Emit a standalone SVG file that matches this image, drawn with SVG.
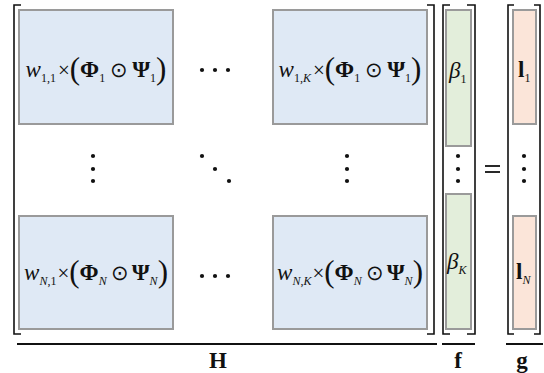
<svg xmlns="http://www.w3.org/2000/svg" width="544" height="373" viewBox="0 0 544 373">
<style>
.bx{stroke:#9a9a9a;stroke-width:2}
.blue{fill:#dfe9f5}
.green{fill:#e3eedb}
.pink{fill:#fbe5d9}
.br{fill:none;stroke:#111;stroke-width:1.6}
.ul{stroke:#111;stroke-width:1.8}
.t{font-family:"Liberation Serif","Times New Roman",serif;font-size:23px;fill:#111}
.it{font-style:italic}
.b{font-weight:bold}
.s{font-size:12px}
.si{font-size:12px;font-style:italic}
.op{font-size:21px}
.p{font-size:31px}
.dot{fill:#111}
.lab{font-family:"Liberation Serif","Times New Roman",serif;font-size:23px;font-weight:bold;fill:#111}
</style>
<defs>
<circle id="d" r="2.1" class="dot"/>
</defs>

<g id="brackets">
<path class="br" d="M21,5 H14 V334 H21"/>
<path class="br" d="M427,5 H434 V334 H427"/>
<path class="br" d="M450,5 H443 V334 H450"/>
<path class="br" d="M467,5 H475 V334 H467"/>
<path class="br" d="M514,5 H508 V334 H514"/>
<path class="br" d="M534,5 H540 V334 H534"/>
</g>

<g id="H11">
<rect class="bx blue" x="19" y="10" width="154" height="114"/>
<text class="t" x="96" y="77" text-anchor="middle"><tspan class="it">w</tspan><tspan class="s" dy="5">1,1</tspan><tspan class="op" dy="-5" dx="2">×</tspan><tspan class="p" dy="2">(</tspan><tspan class="b" dy="-2">Φ</tspan><tspan class="s" dy="5">1</tspan><tspan class="op" dy="-5" dx="5">⊙</tspan><tspan class="b" dx="4">Ψ</tspan><tspan class="s" dy="5">1</tspan><tspan class="p" dy="-3">)</tspan></text>
</g>
<g id="H1K">
<rect class="bx blue" x="273" y="10" width="154" height="114"/>
<text class="t" x="350" y="77" text-anchor="middle"><tspan class="it">w</tspan><tspan class="s" dy="5">1,</tspan><tspan class="si">K</tspan><tspan class="op" dy="-5" dx="2">×</tspan><tspan class="p" dy="2">(</tspan><tspan class="b" dy="-2">Φ</tspan><tspan class="s" dy="5">1</tspan><tspan class="op" dy="-5" dx="5">⊙</tspan><tspan class="b" dx="4">Ψ</tspan><tspan class="s" dy="5">1</tspan><tspan class="p" dy="-3">)</tspan></text>
</g>
<g id="HN1">
<rect class="bx blue" x="19" y="216" width="154" height="113"/>
<text class="t" x="96" y="280" text-anchor="middle"><tspan class="it">w</tspan><tspan class="si" dy="5">N</tspan><tspan class="s">,1</tspan><tspan class="op" dy="-5" dx="1">×</tspan><tspan class="p" dy="2">(</tspan><tspan class="b" dy="-2">Φ</tspan><tspan class="si" dy="5">N</tspan><tspan class="op" dy="-5" dx="4">⊙</tspan><tspan class="b" dx="3">Ψ</tspan><tspan class="si" dy="5">N</tspan><tspan class="p" dy="-3">)</tspan></text>
</g>
<g id="HNK">
<rect class="bx blue" x="273" y="216" width="154" height="113"/>
<text class="t" x="350" y="280" text-anchor="middle"><tspan class="it">w</tspan><tspan class="si" dy="5">N</tspan><tspan class="s">,</tspan><tspan class="si">K</tspan><tspan class="op" dy="-5" dx="1">×</tspan><tspan class="p" dy="2">(</tspan><tspan class="b" dy="-2">Φ</tspan><tspan class="si" dy="5">N</tspan><tspan class="op" dy="-5" dx="4">⊙</tspan><tspan class="b" dx="3">Ψ</tspan><tspan class="si" dy="5">N</tspan><tspan class="p" dy="-3">)</tspan></text>
</g>

<g id="f1">
<rect class="bx green" x="446" y="10" width="25" height="136"/>
<text class="t" x="449" y="78"><tspan class="it">β</tspan><tspan class="s" dy="5">1</tspan></text>
</g>
<g id="fK">
<rect class="bx green" x="446" y="194" width="25" height="135"/>
<text class="t" x="447" y="269"><tspan class="it">β</tspan><tspan class="si" dy="5">K</tspan></text>
</g>
<g id="g1">
<rect class="bx pink" x="513" y="10" width="23" height="114"/>
<text class="t" x="518" y="77"><tspan class="b">l</tspan><tspan class="s" dy="5">1</tspan></text>
</g>
<g id="gN">
<rect class="bx pink" x="513" y="216" width="23" height="113"/>
<text class="t" x="516" y="279"><tspan class="b">l</tspan><tspan class="si" dy="5">N</tspan></text>
</g>

<g id="ellipses">
<use href="#d" x="202" y="70"/><use href="#d" x="215" y="70"/><use href="#d" x="228" y="70"/>
<use href="#d" x="202" y="276"/><use href="#d" x="215" y="276"/><use href="#d" x="228" y="276"/>
<use href="#d" x="93" y="156"/><use href="#d" x="93" y="169"/><use href="#d" x="93" y="181"/>
<use href="#d" x="202" y="156"/><use href="#d" x="215" y="169"/><use href="#d" x="229" y="181"/>
<use href="#d" x="347" y="156"/><use href="#d" x="347" y="169"/><use href="#d" x="347" y="181"/>
<use href="#d" x="458" y="156"/><use href="#d" x="458" y="169"/><use href="#d" x="458" y="181"/>
<use href="#d" x="524" y="156"/><use href="#d" x="524" y="169"/><use href="#d" x="524" y="181"/>
</g>

<g id="equals">
<line class="ul" x1="485" y1="166" x2="500" y2="166"/>
<line class="ul" x1="485" y1="172" x2="500" y2="172"/>
</g>

<g id="underlines">
<line class="ul" x1="17" y1="344" x2="437" y2="344"/>
<line class="ul" x1="442" y1="344" x2="475" y2="344"/>
<line class="ul" x1="506" y1="344" x2="543" y2="344"/>
<text class="lab" x="218" y="368" text-anchor="middle">H</text>
<text class="lab" x="458" y="368" text-anchor="middle">f</text>
<text class="lab" x="522" y="368" text-anchor="middle">g</text>
</g>
</svg>
